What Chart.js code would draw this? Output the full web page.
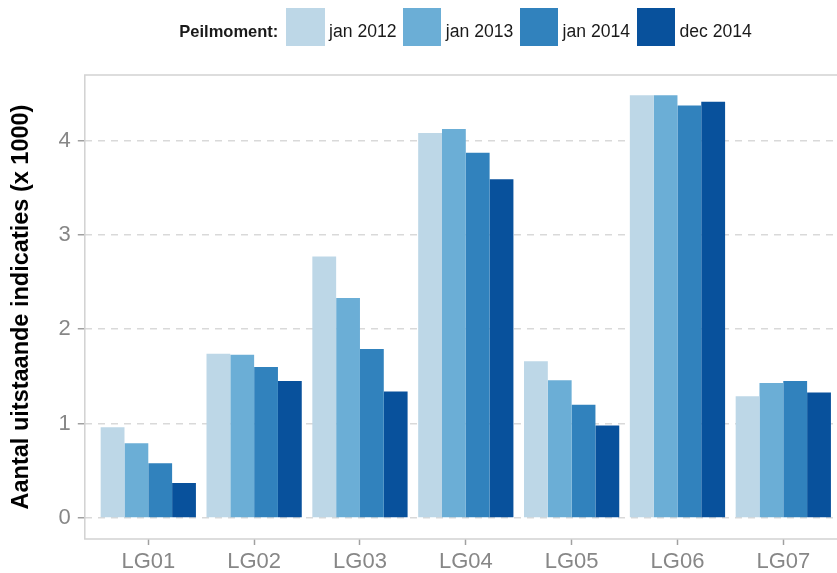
<!DOCTYPE html>
<html>
<head>
<meta charset="utf-8">
<script src="https://cdn.jsdelivr.net/npm/chart.js@4.4.1/dist/chart.umd.min.js"></script>
<style>
  html, body { margin: 0; padding: 0; background: #ffffff; overflow: hidden; width: 837px; height: 573px; }
  #wrap { position: relative; width: 860px; height: 573px; }
  canvas { position: absolute; left: 0; top: 0; }
  #legend { position: absolute; left: 179.3px; top: 8.3px; display: flex; align-items: flex-start;
            font-family: "Liberation Sans", Arial, sans-serif; color: #1a1a1a; white-space: nowrap; }
  #legend .ttl { font-weight: bold; font-size: 16.5px; line-height: 38px; position: relative; top: 4px; margin-right: 8px; }
  #legend .key { width: 38.3px; height: 37.7px; margin-right: 4.4px; }
  #legend .lbl { font-size: 17.6px; line-height: 38px; position: relative; top: 4px; margin-right: 6.6px; }
</style>
</head>
<body>
<div id="wrap">
  <canvas id="c" width="860" height="573"></canvas>
  <div id="legend"></div>
</div>
<script>
const legendTitle = 'Peilmoment:';
const categories = ['LG01', 'LG02', 'LG03', 'LG04', 'LG05', 'LG06', 'LG07'];
const seriesNames = ['jan 2012', 'jan 2013', 'jan 2014', 'dec 2014'];
const jan2012 = [0.96, 1.74, 2.77, 4.08, 1.66, 4.48, 1.29];
const jan2013 = [0.79, 1.73, 2.33, 4.12, 1.46, 4.48, 1.43];
const jan2014 = [0.58, 1.60, 1.79, 3.87, 1.20, 4.37, 1.45];
const dec2014 = [0.37, 1.45, 1.34, 3.59, 0.98, 4.41, 1.33];
const yTicks = [0, 1, 2, 3, 4];
const yTitle = 'Aantal uitstaande indicaties (x 1000)';
const colors = ['#bdd7e7', '#6baed6', '#3182bd', '#08519c'];

const allSeries = [jan2012, jan2013, jan2014, dec2014];
const datasets = allSeries.map((vals, k) => ({
  label: seriesNames[k],
  data: vals.map((v, i) => ({ x: i + 1, y: v })),
  backgroundColor: colors[k],
  borderWidth: 0,
  categoryPercentage: 0.9,
  barPercentage: 1.0
}));

// HTML legend
const lg = document.getElementById('legend');
const t = document.createElement('span'); t.className = 'ttl'; t.textContent = legendTitle; lg.appendChild(t);
seriesNames.forEach((n, k) => {
  const b = document.createElement('span'); b.className = 'key'; b.style.background = colors[k]; lg.appendChild(b);
  const l = document.createElement('span'); l.className = 'lbl'; l.textContent = n; lg.appendChild(l);
});

const panelBorder = {
  id: 'panelBorder',
  afterDatasetsDraw(chart) {
    const { ctx, chartArea: a } = chart;
    ctx.save();
    ctx.strokeStyle = '#d2d2d2';
    ctx.lineWidth = 1.5;
    ctx.setLineDash([]);
    ctx.strokeRect(a.left, a.top, a.right - a.left, a.bottom - a.top);
    ctx.restore();
  }
};

const FONT = '"Liberation Sans", Arial, sans-serif';

new Chart(document.getElementById('c'), {
  type: 'bar',
  data: { datasets },
  options: {
    responsive: false,
    animation: false,
    devicePixelRatio: 1,
    layout: { padding: { top: 75, right: 13.2, left: 0, bottom: 0 } },
    plugins: { legend: { display: false }, tooltip: { enabled: false } },
    scales: {
      x: {
        type: 'linear',
        offset: false,
        min: 0.4,
        max: 7.6,
        afterBuildTicks: s => { s.ticks = categories.map((c, i) => ({ value: i + 1 })); },
        afterFit: s => { s.height = 34; },
        border: { display: false },
        grid: { offset: false, drawOnChartArea: false, drawTicks: true, tickLength: 6, tickColor: '#a0a0a0', tickWidth: 1.5 },
        ticks: {
          padding: 4,
          color: '#878787',
          font: { family: FONT, size: 22 },
          maxRotation: 0,
          autoSkip: false,
          callback: v => categories[Math.round(v) - 1] || ''
        }
      },
      y: {
        min: -0.2235,
        max: 4.6935,
        afterBuildTicks: s => { s.ticks = yTicks.map(v => ({ value: v })); },
        afterFit: s => { s.width = 84.8; },
        border: { display: false, dash: [7, 6] },
        grid: { color: '#d9d9d9', lineWidth: 1.5, tickLength: 7, tickColor: '#a0a0a0', tickWidth: 1.5, tickBorderDash: [] },
        ticks: {
          padding: 7,
          color: '#878787',
          font: { family: FONT, size: 22 },
          callback: v => String(v)
        },
        title: {
          display: true,
          text: yTitle,
          color: '#000000',
          font: { family: FONT, size: 23.5, weight: 'bold' },
          padding: { top: 7, bottom: 0 }
        }
      }
    }
  },
  plugins: [panelBorder]
});
</script>
</body>
</html>
